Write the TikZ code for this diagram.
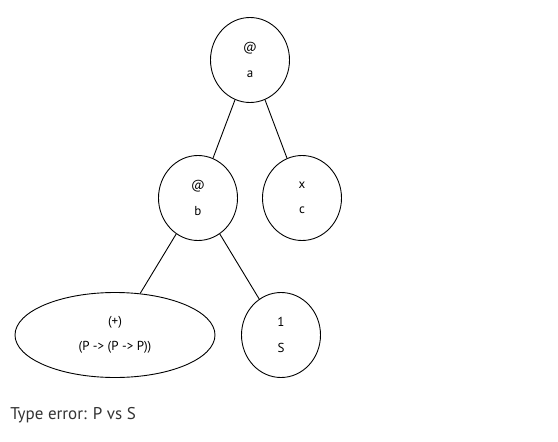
\documentclass[tikz,border=0pt]{standalone}
\usepackage{fontspec}
\setmainfont{PT Sans}
\usetikzlibrary{positioning,shapes.geometric}

\begin{document}
\begin{tikzpicture}[x=1pt, y=1pt, on grid, line width=0.9pt,
	main/.style = {draw, ellipse, minimum width=79pt, minimum height=85pt, inner sep=0pt, align=center, font=\fontsize{13}{25.5}\selectfont}]
			\useasboundingbox (0,0) rectangle (558,-442);
			\node[main] (1) at (250,-60) {@\\a};
			\node[main] (2) [below left=138pt and 52pt of 1] {@\\b};
			\node[main] (3) [below right=138pt and 52pt of 1] {x\\c};
			\node[main, minimum width=200pt] (4) [below left=137pt and 83pt of 2] {(+)\\(P -> (P -> P))};
			\node[main] (5) [below right=137pt and 83pt of 2] {1\\S};
			\node[anchor=west, inner sep=0pt, font=\fontsize{17}{19}\selectfont, text=black!80] (6) at (10,-415) {Type error: P vs S};
			\draw (1) -- (2);
			\draw (1) -- (3);
			\draw (2) -- (4);
			\draw (2) -- (5);
		\end{tikzpicture}
\end{document}
